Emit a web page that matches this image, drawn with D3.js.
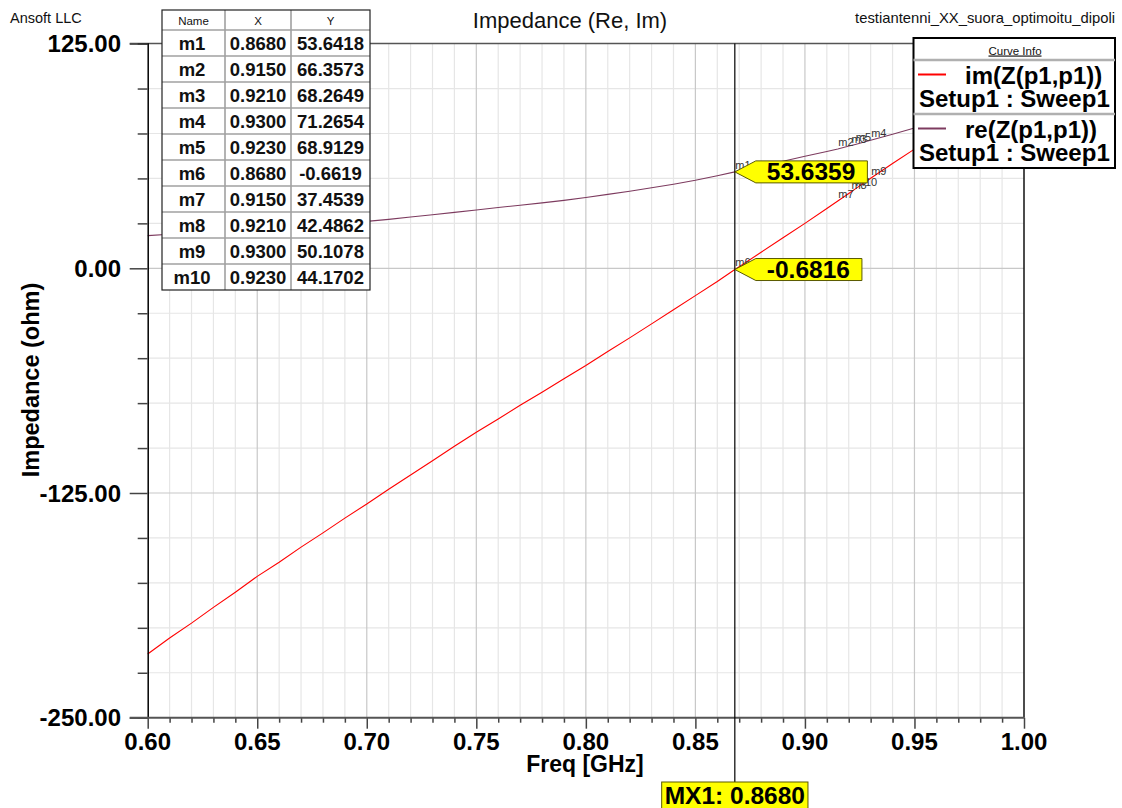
<!DOCTYPE html>
<html>
<head>
<meta charset="utf-8">
<script src="https://cdn.jsdelivr.net/npm/d3@7"></script>
<style>
  html, body { margin: 0; padding: 0; background: #fff; }
  svg { display: block; }
  text { font-family: "Liberation Sans", Arial, Helvetica, sans-serif; }
</style>
</head>
<body>
<svg id="chart" width="1122" height="808"></svg>
<script>
// Sweep frequencies (GHz) and impedance components (ohm)
const freqGHz = [0.60, 0.61, 0.62, 0.63, 0.64, 0.65, 0.66, 0.67, 0.68, 0.69,
                 0.70, 0.71, 0.72, 0.73, 0.74, 0.75, 0.76, 0.77, 0.78, 0.79,
                 0.80, 0.81, 0.82, 0.83, 0.84, 0.85, 0.86, 0.868, 0.87, 0.88,
                 0.89, 0.90, 0.91, 0.915, 0.921, 0.923, 0.93, 0.94, 0.95, 0.96,
                 0.97, 0.98, 0.99, 1.00];
const imZ = [-214.6, -205.7, -197.4, -188.6, -180.2, -171.4, -163.5, -155.1, -147.2, -139.0,
             -131.1, -122.9, -115.0, -107.1, -99.0, -91.2, -83.8, -76.2, -68.9, -61.4,
             -54.1, -46.3, -38.7, -30.9, -23.1, -15.2, -7.3, -0.6619, 0.9, 8.9,
             17.0, 25.0, 33.3, 37.4539, 42.4862, 44.1702, 50.1078, 58.3, 66.3, 74.4,
             82.3, 90.2, 98.0, 105.8];
const reZ = [18.2, 18.9, 19.7, 20.4, 21.2, 22.0, 22.8, 23.6, 24.4, 25.2,
             26.1, 27.2, 28.5, 29.8, 31.1, 32.4, 33.8, 35.1, 36.4, 37.8,
             39.4, 41.1, 42.9, 44.8, 46.8, 49.0, 51.5, 53.6418, 54.2, 56.9,
             59.6, 62.3, 65.0, 66.3573, 68.2649, 68.9129, 71.2654, 74.6, 78.0, 81.5,
             85.0, 88.6, 92.2, 95.8];

// Markers
const markerNames = ["m1", "m2", "m3", "m4", "m5", "m6", "m7", "m8", "m9", "m10"];
const markerX = [0.8680, 0.9150, 0.9210, 0.9300, 0.9230, 0.8680, 0.9150, 0.9210, 0.9300, 0.9230];
const markerY = [53.6418, 66.3573, 68.2649, 71.2654, 68.9129, -0.6619, 37.4539, 42.4862, 50.1078, 44.1702];

// Delta marker MX1 readout
const mx1Freq = 0.8680;
const mx1Values = [53.6359, -0.6816];

// Axis ticks
const xTickLabels = [0.60, 0.65, 0.70, 0.75, 0.80, 0.85, 0.90, 0.95, 1.00];
const yTickLabels = [125, 0, -125, -250];

// Legend entries
const curveNames = ["im(Z(p1,p1))", "re(Z(p1,p1))"];
const curveSetup = ["Setup1 : Sweep1", "Setup1 : Sweep1"];
const curveColors = ["#ff0000", "#7d3b5f"];

const svg = d3.select("#chart");
const W = 1122, H = 808;
const plotL = 147.7, plotR = 1024, plotT = 43.6, plotB = 717.7;

const x = d3.scaleLinear().domain([0.6, 1.0]).range([plotL, plotR]);
const y = d3.scaleLinear().domain([-250, 125]).range([plotB, plotT]);

svg.append("rect").attr("width", W).attr("height", H).attr("fill", "#fff");

// Grid
const minorX = d3.range(61, 100).filter(d => d % 5 !== 0).map(d => d / 100);
const majorX = d3.range(65, 100, 5).map(d => d / 100);
const minorY = d3.range(-225, 125, 25).filter(d => d % 125 !== 0);
const majorY = [0, -125];

const grid = svg.append("g");
grid.selectAll(".gxm").data(minorX).join("line")
  .attr("x1", d => x(d)).attr("x2", d => x(d)).attr("y1", plotT).attr("y2", plotB)
  .attr("stroke", "#e6e6e6").attr("stroke-width", 1.2);
grid.selectAll(".gym").data(minorY).join("line")
  .attr("x1", plotL).attr("x2", plotR).attr("y1", d => y(d)).attr("y2", d => y(d))
  .attr("stroke", "#e6e6e6").attr("stroke-width", 1.2);
grid.selectAll(".gxM").data(majorX).join("line")
  .attr("x1", d => x(d)).attr("x2", d => x(d)).attr("y1", plotT).attr("y2", plotB)
  .attr("stroke", "#c8c8c8").attr("stroke-width", 1.2);
grid.selectAll(".gyM").data(majorY).join("line")
  .attr("x1", plotL).attr("x2", plotR).attr("y1", d => y(d)).attr("y2", d => y(d))
  .attr("stroke", "#c8c8c8").attr("stroke-width", 1.2);

// Curves
const line = d3.line().x(d => x(d[0])).y(d => y(d[1]));
const series = [imZ, reZ];
series.forEach((vals, i) => {
  svg.append("path")
    .datum(freqGHz.map((f, j) => [f, vals[j]]))
    .attr("d", line)
    .attr("fill", "none")
    .attr("stroke", curveColors[i])
    .attr("stroke-width", 1.1);
});

// Frame: top and right
svg.append("line").attr("x1", plotL - 18).attr("x2", plotR).attr("y1", plotT).attr("y2", plotT)
  .attr("stroke", "#555").attr("stroke-width", 1.5);
svg.append("line").attr("x1", plotR).attr("x2", plotR).attr("y1", plotT).attr("y2", plotB)
  .attr("stroke", "#111").attr("stroke-width", 1.5);

// Y axis
const yAxis = d3.axisLeft(y)
  .tickValues(d3.range(-250, 126, 25))
  .tickSize(10)
  .tickFormat(() => "");
const gy = svg.append("g").attr("transform", `translate(${plotL},0)`).call(yAxis);
gy.select(".domain").attr("stroke", "#000").attr("stroke-width", 1.5);
gy.selectAll(".tick line")
  .attr("stroke", "#444").attr("stroke-width", 1.5)
  .attr("x2", d => (d % 125 === 0 ? -18 : -10));
svg.append("g").selectAll("text").data(yTickLabels).join("text")
  .attr("x", 121).attr("y", d => y(d) + 8.5)
  .attr("text-anchor", "end")
  .attr("font-size", 24).attr("font-weight", "bold").attr("fill", "#000")
  .text(d => d.toFixed(2));

// X axis
const xAxis = d3.axisBottom(x)
  .tickValues(d3.range(60, 101).map(d => d / 100))
  .tickSize(5)
  .tickFormat(() => "");
const gx = svg.append("g").attr("transform", `translate(0,${plotB})`).call(xAxis);
gx.select(".domain").remove();
gx.selectAll(".tick line")
  .attr("stroke", "#444").attr("stroke-width", 1.5)
  .attr("y2", d => (Math.round(d * 100) % 5 === 0 ? 11 : 5));
svg.append("line").attr("x1", plotL - 18).attr("x2", plotR).attr("y1", plotB).attr("y2", plotB)
  .attr("stroke", "#555").attr("stroke-width", 2);
svg.append("g").selectAll("text").data(xTickLabels).join("text")
  .attr("x", d => x(d)).attr("y", 750)
  .attr("text-anchor", "middle")
  .attr("font-size", 24).attr("font-weight", "bold").attr("fill", "#000")
  .text(d => d.toFixed(2));

// Axis titles
svg.append("text").attr("x", 585).attr("y", 772).attr("text-anchor", "middle")
  .attr("font-size", 23).attr("font-weight", "bold").text("Freq [GHz]");
svg.append("text").attr("transform", "translate(39,380) rotate(-90)").attr("text-anchor", "middle")
  .attr("font-size", 23.5).attr("font-weight", "bold").text("Impedance (ohm)");

// Header texts
svg.append("text").attr("x", 10).attr("y", 23).attr("font-size", 14.5).attr("fill", "#111").text("Ansoft LLC");
svg.append("text").attr("x", 570).attr("y", 28).attr("text-anchor", "middle")
  .attr("font-size", 22).attr("fill", "#111").text("Impedance (Re, Im)");
svg.append("text").attr("x", 1115).attr("y", 23).attr("text-anchor", "end")
  .attr("font-size", 14.8).attr("fill", "#111").text("testiantenni_XX_suora_optimoitu_dipoli");

// Marker name labels on the curves
svg.append("g").selectAll("text").data(markerNames).join("text")
  .attr("x", (d, i) => x(markerX[i]) + 0.5)
  .attr("y", (d, i) => y(markerY[i]) - 3)
  .attr("font-size", 11).attr("fill", "#333")
  .text(d => d);

// MX1 vertical line
const mxX = x(mx1Freq);
svg.append("line").attr("x1", mxX).attr("x2", mxX).attr("y1", plotT).attr("y2", 782)
  .attr("stroke", "#000").attr("stroke-width", 1.2);

// MX1 value flags
mx1Values.forEach(v => {
  const ty = y(v);
  const g = svg.append("g");
  const poly = g.append("path");
  const t = g.append("text")
    .attr("x", mxX + 32).attr("y", ty + 8.5)
    .attr("font-size", 24.5).attr("font-weight", "bold").attr("fill", "#000")
    .text(v.toFixed(4));
  const tw = t.node().getComputedTextLength();
  const xr = mxX + 32 + tw + 12;
  poly.attr("d", `M${mxX},${ty} L${mxX + 21},${ty - 11} L${xr},${ty - 11} L${xr},${ty + 11} L${mxX + 21},${ty + 11} Z`)
    .attr("fill", "#ffff00").attr("stroke", "#5a5a00").attr("stroke-width", 1);
});

// MX1 frequency readout
{
  const g = svg.append("g");
  const r = g.append("rect");
  const t = g.append("text").attr("x", mxX).attr("y", 803.5).attr("text-anchor", "middle")
    .attr("font-size", 24.5).attr("font-weight", "bold").attr("fill", "#000")
    .text("MX1: " + mx1Freq.toFixed(4));
  const tw = t.node().getComputedTextLength();
  r.attr("x", mxX - tw / 2 - 3).attr("y", 782).attr("width", tw + 6).attr("height", 30)
    .attr("fill", "#ffff00").attr("stroke", "#5a5a00").attr("stroke-width", 1);
}

// Marker table
{
  const tx = 162, ty = 10, colX = [162, 225, 291, 370], headH = 20, rowH = 26;
  const nRows = markerNames.length;
  const tb = svg.append("g");
  const th = headH + rowH * nRows;
  tb.append("rect").attr("x", tx).attr("y", ty).attr("width", colX[3] - tx).attr("height", th)
    .attr("fill", "#fff");
  for (let i = 1; i <= nRows; i++) {
    const yy = ty + headH + rowH * (i - 1);
    tb.append("line").attr("x1", tx).attr("x2", colX[3]).attr("y1", yy).attr("y2", yy)
      .attr("stroke", "#a0a0a0").attr("stroke-width", 1.6);
  }
  [colX[1], colX[2]].forEach(cx => {
    tb.append("line").attr("x1", cx).attr("x2", cx).attr("y1", ty).attr("y2", ty + th)
      .attr("stroke", "#a0a0a0").attr("stroke-width", 1.6);
  });
  tb.append("rect").attr("x", tx).attr("y", ty).attr("width", colX[3] - tx).attr("height", th)
    .attr("fill", "none").attr("stroke", "#222").attr("stroke-width", 1.2);
  const centers = [0, 1, 2].map(i => (colX[i] + colX[i + 1]) / 2);
  ["Name", "X", "Y"].forEach((h, i) => {
    tb.append("text").attr("x", centers[i]).attr("y", ty + 15).attr("text-anchor", "middle")
      .attr("font-size", 11.5).attr("fill", "#111").text(h);
  });
  markerNames.forEach((n, i) => {
    const by = ty + headH + rowH * i + 19.5;
    const cells = [n, markerX[i].toFixed(4), markerY[i].toFixed(4)];
    cells.forEach((c, k) => {
      tb.append("text").attr("x", centers[k] - (k === 0 ? 1.5 : 0)).attr("y", by).attr("text-anchor", "middle")
        .attr("font-size", 18.5).attr("font-weight", "bold").attr("fill", "#111").text(c);
    });
  });
}

// Curve info legend
{
  const lx = 913.5, ly = 38, lw = 201.5, lh = 130;
  const lg = svg.append("g");
  lg.append("rect").attr("x", lx).attr("y", ly).attr("width", lw).attr("height", lh)
    .attr("fill", "#fff").attr("stroke", "#000").attr("stroke-width", 2);
  lg.append("text").attr("x", 1015).attr("y", 54.5).attr("text-anchor", "middle")
    .attr("font-size", 11.5).attr("fill", "#111").attr("text-decoration", "underline").text("Curve Info");
  [60, 114].forEach(sy => {
    lg.append("line").attr("x1", lx).attr("x2", lx + lw).attr("y1", sy).attr("y2", sy)
      .attr("stroke", "#b0b0b0").attr("stroke-width", 2.5);
  });
  const rowTop = [60, 114];
  curveNames.forEach((nm, i) => {
    const r0 = rowTop[i];
    lg.append("line").attr("x1", 918).attr("x2", 946).attr("y1", r0 + 14.5).attr("y2", r0 + 14.5)
      .attr("stroke", curveColors[i]).attr("stroke-width", 2);
    lg.append("text").attr("x", 965).attr("y", r0 + 23.5)
      .attr("font-size", 24).attr("font-weight", "bold").attr("fill", "#000").text(nm);
    lg.append("text").attr("x", 919).attr("y", r0 + 47)
      .attr("font-size", 24).attr("font-weight", "bold").attr("fill", "#000").text(curveSetup[i]);
  });
}
</script>
</body>
</html>
